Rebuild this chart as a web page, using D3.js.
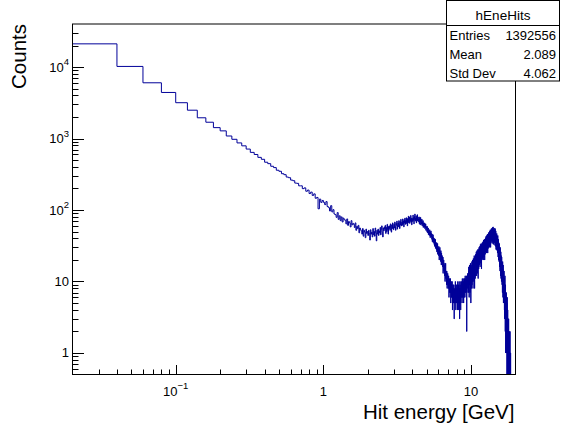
<!DOCTYPE html>
<html><head><meta charset="utf-8">
<script src="https://cdn.jsdelivr.net/npm/d3@7"></script>
<style>
body{margin:0;background:#fff}
svg{display:block;font-family:"Liberation Sans",Arial,Helvetica,sans-serif}
</style>
</head><body>
<svg id="c" width="562" height="424"></svg>
<script>
// ---------- data ----------
const histName = "hEneHits";
const statLabels = ["Entries", "Mean", "Std Dev"];
const statValues = ["1392556", "2.089", "4.062"];
const xTitle = "Hit energy [GeV]";
const yTitle = "Counts";
const xRange = [0.02, 20];
const yRange = [0.5, 40000];
const binLow = 0.02, binWidth = 0.02, nBins = 999;
const xMajorTicks = [0.1, 1, 10];
const xTickBase = ["10", "1", "10"];
const xTickExp = ["\u22121", "", ""];
const yMajorTicks = [1, 10, 100, 1000, 10000];
const yTickBase = ["1", "10", "10", "10", "10"];
const yTickExp = ["", "", "2", "3", "4"];

// bins 0.02 .. 1.00
const countsLow = [21100, 10200, 6020, 4410, 3170, 2490, 1950, 1690, 1420, 1280,
  1085, 975, 868, 790, 712, 640, 598, 545, 512, 466,
  445, 409, 392, 360, 348, 322, 312, 289, 283, 262,
  257, 238, 236, 218, 218, 199, 204, 183, 190, 170,
  178, 160, 168, 146, 150, 104, 142, 128, 136];
// bins 1.00 .. 18.60
const countsHigh = [
  128,119,131,112,108,97,115,94,101,88,
  86,79,92,74,83,71,80,68,77,73,
  72,64,75,61,69,66,58,71,62,65,
  63,57,66,52,59,55,61,48,56,53,
  51,46,55,43,52,49,41,54,47,50,
  44,52,47,38,53,46,49,42,55,45,
  50,43,56,48,37,52,46,54,44,51,
  48,57,45,53,60,49,42,56,51,58,
  54,61,47,57,50,63,53,46,59,55,
  60,52,64,57,49,62,55,66,58,53,
  63,56,68,59,52,65,61,70,54,62,
  66,58,71,63,55,69,62,74,60,65,
  68,61,75,64,70,58,73,66,77,63,
  71,64,78,67,74,60,76,69,82,66,
  73,80,65,75,70,84,68,77,62,74,
  76,69,85,72,78,64,81,74,88,70,
  77,71,83,66,79,74,86,70,80,73,
  75,68,80,64,73,77,62,79,70,74,
  69,63,74,60,68,65,71,57,66,64,
  63,58,66,55,61,57,64,52,59,56,
  57,50,59,48,54,51,56,45,52,49,
  50,44,53,46,41,49,45,51,42,47,
  44,39,46,36,42,40,45,35,41,38,
  38,33,40,31,36,34,39,29,35,32,
  33,28,35,26,31,29,34,24,30,27,
  29,23,31,25,20,28,24,30,22,26,
  24,19,27,21,17,25,22,18,23,20,
  21,16,22,13,19,17,20,14,18,15,
  17,12,16,10,15,13,18,11,14,12,
  13,9,14,11,8,12,10,13,9,11,
  11,8,12,9,6,10,8,11,7,9,
  10,7,11,8,5,9,7,10,6,8,
  9,6,10,7,4,8,6,9,5,8,
  8,5,9,6,3,7,6,8,5,7,
  7,10,5,8,4,6,9,5,7,6,
  8,5,9,6,7,4,10,6,8,5,
  7,9,4,8,6,10,5,7,3,8,
  6,9,5,8,7,4,10,6,8,7,
  9,6,10,7,5,8,11,6,9,7,
  8,6,10,7,9,5,11,8,6,9,
  10,7,11,8,6,9,12,8,10,7,
  9,11,7,10,8,12,7,2,10,9,
  11,8,12,9,13,10,7,11,9,12,
  12,7,16,10,14,6,12,9,17,9,
  9,16,7,14,11,18,8,13,5,15,
  17,12,16,8,13,10,19,9,15,11,
  15,10,20,13,17,8,15,11,21,12,
  13,20,10,18,15,23,12,18,8,20,
  22,16,20,11,17,13,24,12,19,15,
  20,14,26,17,23,12,20,16,27,17,
  16,25,13,23,19,28,15,22,11,24,
  28,21,26,15,22,18,30,17,24,19,
  25,18,31,22,28,16,25,21,33,22,
  21,31,18,28,24,34,20,27,15,30,
  33,25,31,20,28,22,35,21,30,24,
  30,22,36,26,33,20,29,24,38,25,
  26,36,22,33,29,39,25,32,20,35,
  39,30,37,24,33,27,41,26,35,29,
  36,27,43,32,39,25,35,30,44,31,
  31,43,27,40,35,46,30,38,25,41,
  45,36,43,29,39,32,48,31,41,34,
  42,32,49,37,46,30,41,36,51,37,
  37,49,32,46,41,53,36,45,30,48,
  52,42,49,35,45,38,55,37,47,40,
  47,37,55,42,51,34,46,40,57,42,
  41,53,36,50,45,58,39,49,33,52,
  53,43,50,36,46,39,56,38,48,41,
  45,35,53,40,49,32,44,38,55,40,
  35,47,31,44,39,51,34,43,28,46,
  44,35,42,28,38,31,47,30,40,33,
  36,27,43,32,39,25,35,30,44,31,
  26,36,22,33,29,39,25,32,20,35,
  32,24,30,19,27,21,34,20,29,23,
  23,16,29,20,26,14,23,19,30,20,
  15,24,12,22,18,26,15,21,11,23,
  21,15,19,10,16,12,22,12,18,14,
  14,9,18,12,16,7,14,10,19,11,
  8,15,6,13,10,17,8,12,5,14,
  13,8,11,5,9,6,14,6,11,7,
  8,4,11,6,9,3,8,5,12,6,
  3,7,2,6,5,9,3,6,1,7,
  6,3,6,1,4,2,7,2,5,3,
  3,1,6,2,5,0,3,2,6,2,
  1,3,0,3,2,4,1,2,0,3,
  2,1,3,0,1,2,0,1,3,0,
  1,0,2,0,1,1,0,2,0,1,
  0,1,0,1,0,0,1,0,2,0,
  0,0,1,0,0,0,1,0,0,0];

// ---------- layout ----------
const W = 562, H = 424;
const frame = {left: 72.5, right: 515.5, top: 24, bottom: 374.5};
const lineColor = "#000099";
const svg = d3.select("#c");

const x = d3.scaleLog().domain(xRange).range([frame.left, frame.right]);
const y = d3.scaleLog().domain(yRange).range([frame.bottom, frame.top]).clamp(true);

svg.append("rect").attr("width", W).attr("height", H).attr("fill", "#fff");

svg.append("defs").append("clipPath").attr("id", "clip")
  .append("rect").attr("x", frame.left).attr("y", frame.top)
  .attr("width", frame.right - frame.left).attr("height", frame.bottom - frame.top);

// histogram
const counts = countsLow.concat(countsHigh);
while (counts.length < nBins) counts.push(0);
const pts = [];
counts.forEach((c, k) => {
  const e0 = binLow + k * binWidth, e1 = binLow + (k + 1) * binWidth;
  const yy = c > 0 ? y(c) : y(yRange[0]);
  pts.push([x(e0), yy], [x(e1), yy]);
});
svg.append("path")
  .attr("clip-path", "url(#clip)")
  .attr("d", d3.line()(pts))
  .attr("fill", "none").attr("stroke", lineColor).attr("stroke-width", 1);

// frame
const g = svg.append("g").attr("stroke", "#000").attr("stroke-width", 1).attr("fill", "none");
g.append("rect").attr("x", frame.left).attr("y", frame.top)
  .attr("width", frame.right - frame.left).attr("height", frame.bottom - frame.top);

const isMajor = v => Math.abs(Math.log10(v) - Math.round(Math.log10(v))) < 1e-9;
x.ticks().forEach(v => {
  if (v <= xRange[0] * 1.0001 || v >= xRange[1] * 0.9999) return;
  const len = isMajor(v) ? 9.5 : 5;
  const px = Math.round(x(v)) + 0.5;
  g.append("line").attr("x1", px).attr("x2", px)
    .attr("y1", frame.bottom).attr("y2", frame.bottom - len);
});
y.ticks().forEach(v => {
  if (v <= yRange[0] * 1.0001 || v >= yRange[1] * 0.9999) return;
  const len = isMajor(v) ? 11.5 : 6;
  const py = Math.round(y(v)) + 0.5;
  g.append("line").attr("x1", frame.left).attr("x2", frame.left + len)
    .attr("y1", py).attr("y2", py);
});

// tick labels
const fs = 13;
xMajorTicks.forEach((v, i) => {
  const t = svg.append("text").attr("x", x(v)).attr("y", 395.5)
    .attr("text-anchor", "middle").attr("font-size", fs).attr("fill", "#000");
  t.append("tspan").text(xTickBase[i]);
  if (xTickExp[i]) t.append("tspan").attr("dy", -6.5).attr("font-size", 9.5).text(xTickExp[i]);
});
yMajorTicks.forEach((v, i) => {
  const t = svg.append("text").attr("x", 69).attr("y", y(v) + 4.5)
    .attr("text-anchor", "end").attr("font-size", fs).attr("fill", "#000");
  t.append("tspan").text(yTickBase[i]);
  if (yTickExp[i]) t.append("tspan").attr("dy", -6.5).attr("font-size", 9.5).text(yTickExp[i]);
});

// axis titles
svg.append("text").attr("x", frame.right - 1).attr("y", 418.5)
  .attr("text-anchor", "end").attr("font-size", 20.5).attr("fill", "#000").text(xTitle);
svg.append("text").attr("transform", `translate(26,${frame.top}) rotate(-90)`)
  .attr("text-anchor", "end").attr("font-size", 20.5).attr("fill", "#000").text(yTitle);

// stats box
const box = {x: 446.5, y: 0.5, w: 113, h: 80.5, titleH: 25};
svg.append("rect").attr("x", box.x).attr("y", box.y).attr("width", box.w).attr("height", box.h)
  .attr("fill", "#fff").attr("stroke", "#000");
svg.append("line").attr("x1", box.x).attr("x2", box.x + box.w)
  .attr("y1", box.y + box.titleH).attr("y2", box.y + box.titleH).attr("stroke", "#000");
svg.append("text").attr("x", box.x + box.w / 2).attr("y", 19.5)
  .attr("text-anchor", "middle").attr("font-size", 13.5).attr("fill", "#000").text(histName);
statLabels.forEach((l, i) => {
  const yy = 39.5 + i * 19.2;
  svg.append("text").attr("x", box.x + 3).attr("y", yy).attr("font-size", 13)
    .attr("fill", "#000").text(l);
  svg.append("text").attr("x", box.x + box.w - 3.5).attr("y", yy).attr("font-size", 13)
    .attr("text-anchor", "end").attr("fill", "#000").text(statValues[i]);
});
</script>
</body></html>
